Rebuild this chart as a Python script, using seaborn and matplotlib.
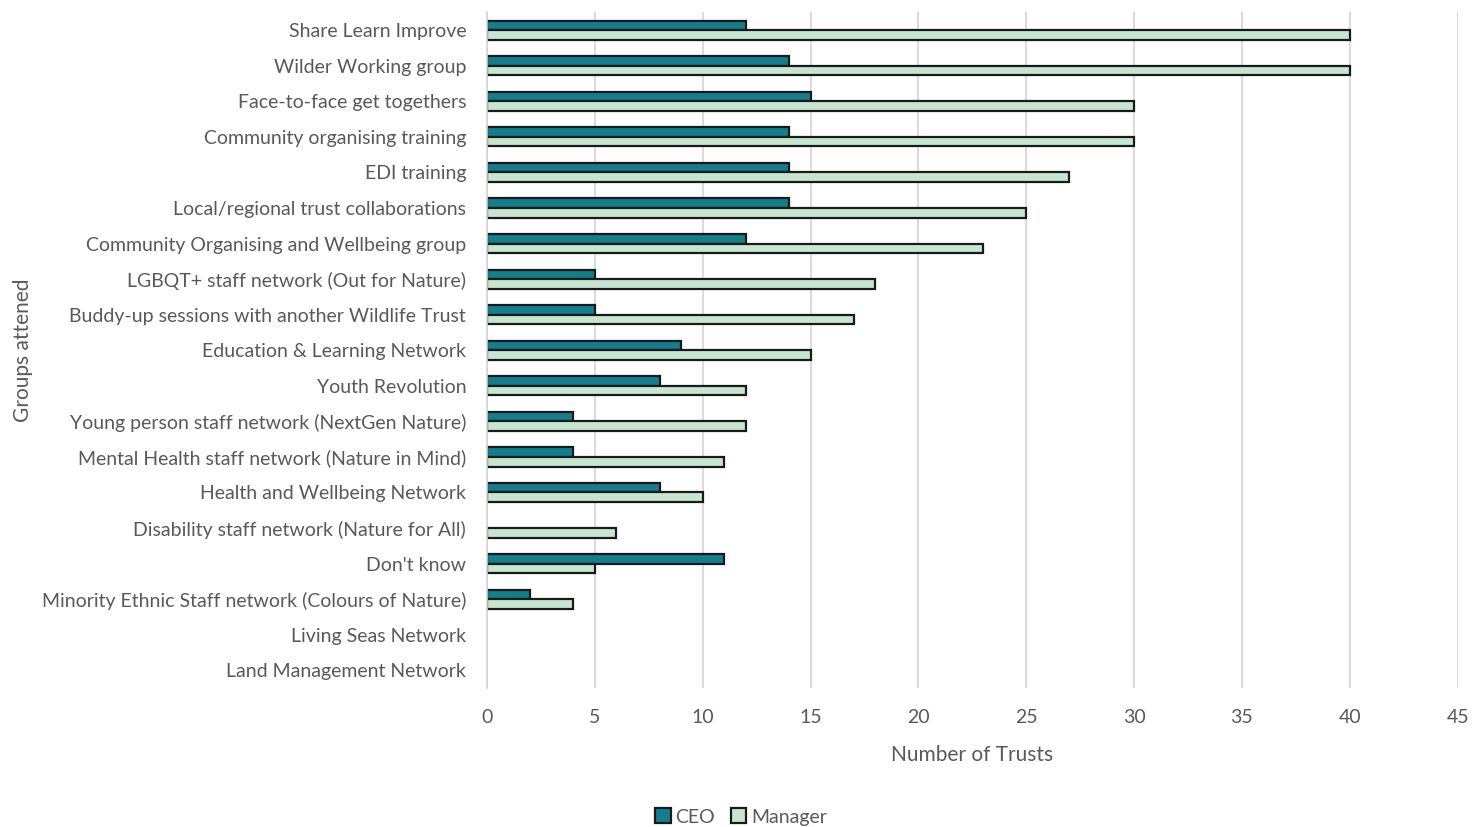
import matplotlib
matplotlib.use("Agg")
import matplotlib.pyplot as plt
import seaborn as sns
import pandas as pd

groups = [
    "Share Learn Improve",
    "Wilder Working group",
    "Face-to-face get togethers",
    "Community organising training",
    "EDI training",
    "Local/regional trust collaborations",
    "Community Organising and Wellbeing group",
    "LGBQT+ staff network (Out for Nature)",
    "Buddy-up sessions with another Wildlife Trust",
    "Education & Learning Network",
    "Youth Revolution",
    "Young person staff network (NextGen Nature)",
    "Mental Health staff network (Nature in Mind)",
    "Health and Wellbeing Network",
    "Disability staff network (Nature for All)",
    "Don't know",
    "Minority Ethnic Staff network (Colours of Nature)",
    "Living Seas Network",
    "Land Management Network",
]
ceo = [12, 14, 15, 14, 14, 14, 12, 5, 5, 9, 8, 4, 4, 8, 0, 11, 2, 0, 0]
manager = [40, 40, 30, 30, 27, 25, 23, 18, 17, 15, 12, 12, 11, 10, 6, 5, 4, 0, 0]
roles = ["CEO", "Manager"]
colors = ["#137f8e", "#c5e7d0"]

df = pd.DataFrame({
    "group": groups * 2,
    "role": ["CEO"] * len(groups) + ["Manager"] * len(groups),
    "count": ceo + manager,
})

sns.set_theme(style="white")
plt.rcParams["font.family"] = ["Lato", "DejaVu Sans"]

fig = plt.figure(figsize=(14.82, 8.27), dpi=100)
ax = fig.add_axes([0.3286, 0.168, 0.655, 0.817])

sns.barplot(
    data=df, y="group", x="count", hue="role", order=groups, hue_order=roles,
    palette=colors, saturation=1, orient="h", width=0.54,
    edgecolor="#1a1a1a", linewidth=1.6, ax=ax, legend=True,
)

handles, labels = ax.get_legend_handles_labels()
if ax.get_legend() is not None:
    ax.get_legend().remove()

# empty bars should not leave an outline at zero
for bar in ax.patches:
    if bar.get_width() == 0:
        bar.set_linewidth(0)

ax.set_xlim(0, 45)
ax.set_xticks(range(0, 46, 5))
ax.set_ylim(len(groups) - 0.5, -0.5)
ax.xaxis.grid(True, color="#d4d4d4", linewidth=1.2)
ax.set_axisbelow(True)
for s in ["top", "right", "bottom"]:
    ax.spines[s].set_visible(False)
ax.spines["left"].set_color("#d4d4d4")
ax.spines["left"].set_linewidth(1.2)

ax.tick_params(axis="both", length=0, labelsize=14, labelcolor="#595959")
ax.tick_params(axis="y", pad=15)
ax.tick_params(axis="x", pad=15)
ax.set_xlabel("Number of Trusts", fontsize=15, color="#595959", labelpad=14)
ax.set_ylabel("Groups attened", fontsize=15, color="#595959")
ax.yaxis.set_label_coords(-0.468, 0.5)

leg = fig.legend(
    handles, labels,
    loc="center", bbox_to_anchor=(0.5, 0.012),
    ncol=2, frameon=False, fontsize=14, handlelength=0.8, handleheight=0.8,
    handletextpad=0.25, columnspacing=0.8, labelcolor="#595959",
)
for h, c in zip(leg.get_patches(), colors):
    h.set_facecolor(c)
    h.set_edgecolor("#1a1a1a")
    h.set_linewidth(1.6)

fig.savefig("out.png", dpi=100)
